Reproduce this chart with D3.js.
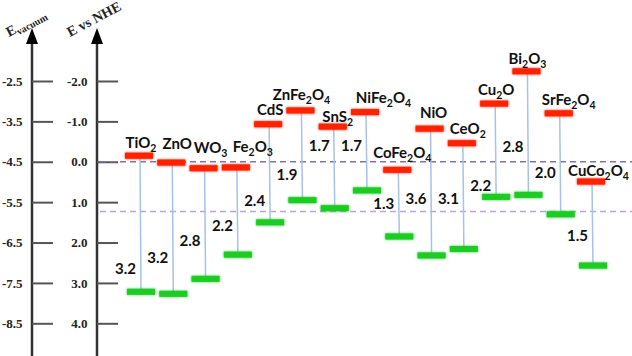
<!DOCTYPE html>
<html><head><meta charset="utf-8">
<script src="https://cdn.jsdelivr.net/npm/d3@7"></script>
<style>body{margin:0;background:#fff}</style>
</head><body>
<svg id="c" width="632" height="356"></svg>
<script>
// ---- data ----
const materials = ["TiO2","ZnO","WO3","Fe2O3","CdS","ZnFe2O4","SnS2","NiFe2O4","CoFe2O4","NiO","CeO2","Cu2O","Bi2O3","SrFe2O4","CuCo2O4"];
const cbEdge = [-0.15, 0.02, 0.16, 0.14, -0.93, -1.27, -0.87, -1.23, 0.20, -0.82, -0.46, -1.44, -2.24, -1.20, 0.49];
const vbEdge = [3.22, 3.27, 2.90, 2.30, 1.50, 0.95, 1.15, 0.71, 1.85, 2.32, 2.16, 0.87, 0.82, 1.30, 2.57];
const gapLabels = ["3.2","3.2","2.8","2.2","2.4","1.9","1.7","1.7","1.3","3.6","3.1","2.2","2.8","2.0","1.5"];
const nheTicks = [-2.0,-1.0,0.0,1.0,2.0,3.0,4.0];
const vacTicks = [-2.5,-3.5,-4.5,-5.5,-6.5,-7.5,-8.5];
const refLevels = [0, 1.23];

// ---- layout (label placement: y in eV, px nudges) ----
const gapLabelAt = [2.64, 2.38, 1.94, 1.58, 0.95, 0.32, -0.40, -0.40, 1.03, 0.91, 0.92, 0.58, -0.38, 0.28, 1.84];
const nameDx = [2, 6, 7, 17, 2, 1, 5, 18.5, 5, 4, 6, 2, 1, 10, 7.5];
const nameLift = [4.5, 11, 12, 12, 6.5, 7, 2, 6.5, 9, 7.5, 6.5, 6, 4, 5.5, 2.5];

const svg = d3.select("#c");
const y = d3.scaleLinear().domain([-2, 4]).range([81, 323.3]);
const yVac = d3.scaleLinear().domain([-2.5, -8.5]).range([81, 323.3]);
const x = d3.scalePoint().domain(materials).range([139, 591]);

const defs = svg.append("defs");
const glow = defs.append("filter").attr("id","glow").attr("x","-20%").attr("y","-80%").attr("width","140%").attr("height","260%");
glow.append("feGaussianBlur").attr("in","SourceGraphic").attr("stdDeviation",1.1).attr("result","b");
const m = glow.append("feMerge"); m.append("feMergeNode").attr("in","b"); m.append("feMergeNode").attr("in","SourceGraphic");

// axes
const axX = [32, 97];
axX.forEach(ax => {
  svg.append("line").attr("x1",ax).attr("x2",ax).attr("y1",40).attr("y2",356)
    .attr("stroke","#333").attr("stroke-width",2.5);
  svg.append("path").attr("d",`M${ax},28 L${ax-6},44 L${ax+6},44 Z`).attr("fill","#000");
});
const serif = "'Liberation Serif','DejaVu Serif',serif";
function styleAxis(g){
  g.select(".domain").remove();
  g.selectAll(".tick line").attr("stroke","#555").attr("stroke-width",2);
  g.selectAll(".tick text").attr("x",-9.5).attr("text-anchor","end")
    .attr("font-family",serif).attr("font-weight","bold").attr("font-size",13).attr("fill","#222");
}
svg.append("g").attr("transform",`translate(${axX[0]},0)`)
  .call(d3.axisRight(yVac).tickValues(vacTicks).tickSize(21).tickFormat(d=>d.toFixed(1))).call(styleAxis);
svg.append("g").attr("transform",`translate(${axX[1]},0)`)
  .call(d3.axisRight(y).tickValues(nheTicks).tickSize(21).tickFormat(d=>(d===0?0:d).toFixed(1))).call(styleAxis);

// axis titles
const t1 = svg.append("text").attr("transform","translate(9,37) rotate(-28)")
  .attr("font-family",serif).attr("font-weight","bold").attr("font-size",14).attr("fill","#222");
t1.append("tspan").text("E");
t1.append("tspan").attr("font-size",10).attr("dy",3).text("vacuum");
svg.append("text").attr("transform","translate(70,37) rotate(-28)")
  .attr("font-family",serif).attr("font-weight","bold").attr("font-size",14).attr("fill","#222")
  .text("E vs NHE");

// reference dashed levels
svg.selectAll("line.ref").data(refLevels).join("line").attr("class","ref")
  .attr("x1",100).attr("x2",632).attr("y1",d=>y(d)).attr("y2",d=>y(d))
  .attr("stroke",(d,i)=> i===0 ? "#8072ae" : "#b9a3e3").attr("stroke-width",1.5)
  .attr("stroke-dasharray","6,4");

const data = materials.map((name,i)=>({name, cb:cbEdge[i], vb:vbEdge[i], gap:gapLabels[i], i}));
const bw = 28, bh = 6, gOff = 2;

// connecting lines
svg.selectAll("line.conn").data(data).join("line").attr("class","conn")
  .attr("x1",d=>x(d.name)+1).attr("x2",d=>x(d.name)+gOff)
  .attr("y1",d=>y(d.cb)).attr("y2",d=>y(d.vb))
  .attr("stroke","#a6c2e6").attr("stroke-width",1.5);

// CB bars
svg.selectAll("rect.cb").data(data).join("rect").attr("class","cb")
  .attr("x",d=>x(d.name)-bw/2).attr("y",d=>y(d.cb)-bh/2).attr("width",bw).attr("height",bh)
  .attr("fill","#ff2200").attr("filter","url(#glow)");
// VB bars
svg.selectAll("rect.vb").data(data).join("rect").attr("class","vb")
  .attr("x",d=>x(d.name)-bw/2+gOff).attr("y",d=>y(d.vb)-bh/2).attr("width",bw).attr("height",bh)
  .attr("fill","#1ccc22").attr("filter","url(#glow)");

const sans = "Lato,'Open Sans',sans-serif";
// material names
data.forEach(d=>{
  const t = svg.append("text").attr("x",x(d.name)+nameDx[d.i]).attr("y",y(d.cb)-bh/2-nameLift[d.i])
    .attr("text-anchor","middle").attr("font-family",sans).attr("font-weight","bold")
    .attr("font-size",15).attr("fill","#111");
  let sub=false;
  d.name.match(/[A-Za-z]+|\d+/g).forEach(p=>{
    const isNum=/\d/.test(p);
    const ts=t.append("tspan").text(p);
    if(isNum){ ts.attr("font-size",10.5); if(!sub) ts.attr("dy",4); sub=true; }
    else { if(sub) ts.attr("dy",-4); sub=false; }
  });
});
// gap labels
svg.selectAll("text.gap").data(data).join("text").attr("class","gap")
  .attr("x",d=>x(d.name)-3).attr("y",d=>y(gapLabelAt[d.i])).attr("dy","0.36em")
  .attr("text-anchor","end").attr("font-family",sans).attr("font-weight","bold")
  .attr("font-size",15).attr("fill","#111").text(d=>d.gap);
</script>
</body></html>
